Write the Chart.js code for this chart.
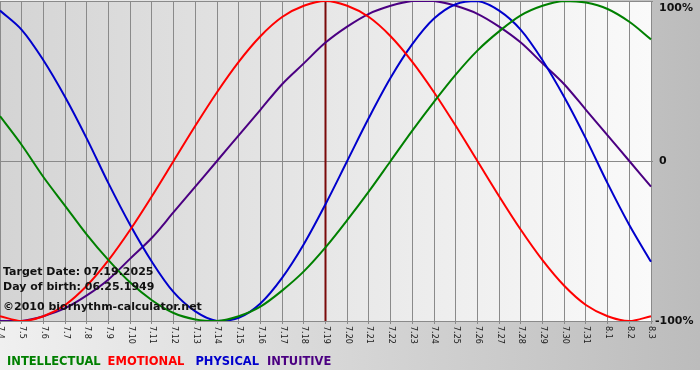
<!DOCTYPE html>
<html>
<head>
<meta charset="utf-8">
<script src="https://cdn.jsdelivr.net/npm/chart.js@4/dist/chart.umd.min.js"></script>
<style>
html,body{margin:0;padding:0;background:#ffffff;}
canvas{display:block;}
</style>
</head>
<body>
<canvas id="c" width="700" height="380"></canvas>
<script>
const dayLabels = ["7.4","7.5","7.6","7.7","7.8","7.9","7.10","7.11","7.12","7.13","7.14","7.15","7.16","7.17","7.18","7.19","7.20","7.21","7.22","7.23","7.24","7.25","7.26","7.27","7.28","7.29","7.30","7.31","8.1","8.2","8.3"];
const intellectual = [28,10,-10,-28,-46,-62,-76,-87,-95,-99,-100,-97,-91,-81,-69,-54,-37,-19,0,19,37,54,69,81,91,97,100,99,95,87,76];
const emotional = [-97,-100,-97,-90,-78,-62,-43,-22,0,22,43,62,78,90,97,100,97,90,78,62,43,22,0,-22,-43,-62,-78,-90,-97,-100,-97];
const physical = [94,82,63,40,14,-14,-40,-63,-82,-94,-100,-98,-89,-73,-52,-27,0,27,52,73,89,98,100,94,82,63,40,14,-14,-40,-63];
const intuitive = [-100,-100,-97,-92,-84,-74,-61,-48,-32,-16,0,16,32,48,61,74,84,92,97,100,100,97,92,84,74,61,48,32,16,0,-16];
const yTickLabels = ["100%","0","-100%"];
const yTickValues = [100,0,-100];
const targetLabel = "7.19";
const infoLines = ["Target Date: 07.19.2025","Day of birth: 06.25.1949","©2010 biorhythm-calculator.net"];
const seriesNames = ["INTELLECTUAL","EMOTIONAL","PHYSICAL","INTUITIVE"];
const seriesColors = ["#008000","#ff0000","#0000cc","#4b0082"];

const decor = {
  id:'decor',
  beforeDraw(chart){
    const ctx = chart.ctx, a = chart.chartArea;
    ctx.save();
    ctx.fillStyle = '#ffffff';
    ctx.fillRect(0,0,700,380);
    let g = ctx.createLinearGradient(0,0,700,0);
    g.addColorStop(0,'#f0f0f0');
    g.addColorStop(1,'#bcbcbc');
    ctx.fillStyle = g;
    ctx.fillRect(0,0,700,370);
    g = ctx.createLinearGradient(a.left,0,a.right,0);
    g.addColorStop(0,'#d4d4d4');
    g.addColorStop(1,'#fafafa');
    ctx.fillStyle = g;
    ctx.fillRect(a.left,a.top,a.right-a.left,a.bottom-a.top);
    ctx.restore();
  },
  beforeDatasetsDraw(chart){
    const ctx = chart.ctx, a = chart.chartArea, xs = chart.scales.x;
    const x = xs.getPixelForValue(dayLabels.indexOf(targetLabel));
    ctx.save();
    ctx.strokeStyle = '#7a0a0a';
    ctx.lineWidth = 2;
    ctx.beginPath();
    ctx.moveTo(x, a.top);
    ctx.lineTo(x, a.bottom);
    ctx.stroke();
    ctx.restore();
  },
  afterDraw(chart){
    const ctx = chart.ctx, a = chart.chartArea, xs = chart.scales.x, ys = chart.scales.y;
    ctx.save();
    ctx.fillStyle = '#1a1a1a';
    ctx.font = '8px "DejaVu Sans"';
    ctx.textAlign = 'left';
    ctx.textBaseline = 'middle';
    dayLabels.forEach((l,i)=>{
      const x = xs.getPixelForValue(i);
      ctx.save();
      ctx.translate(x+0.5, a.bottom+5);
      ctx.rotate(Math.PI/2);
      ctx.fillText(l,0,0);
      ctx.restore();
    });
    ctx.fillStyle = '#111111';
    ctx.font = 'bold 11px "DejaVu Sans"';
    ctx.textBaseline = 'middle';
    yTickValues.forEach((v,i)=>{
      let y = ys.getPixelForValue(v);
      if (v === 100) y += 7;
      ctx.fillText(yTickLabels[i], a.right + (v===-100?4:8), y);
    });
    ctx.fillStyle = '#111111';
    ctx.font = 'bold 11px "DejaVu Sans"';
    ctx.fillText(infoLines[0], 3, 272);
    ctx.fillText(infoLines[1], 3, 287);
    ctx.fillText(infoLines[2], 3, 307);
    ctx.font = 'bold 11.5px "DejaVu Sans"';
    let lx = 7;
    seriesNames.forEach((n,i)=>{
      ctx.fillStyle = seriesColors[i];
      ctx.fillText(n, lx, 362);
      lx += ctx.measureText(n).width + [7,11,8,0][i];
    });
    ctx.restore();
  }
};

const mk = (data,color)=>({data, borderColor:color, borderWidth:2, pointRadius:0, tension:0.33, fill:false});

new Chart(document.getElementById('c'),{
  type:'line',
  data:{
    labels: dayLabels,
    datasets:[
      mk(intellectual, seriesColors[0]),
      mk(emotional, seriesColors[1]),
      mk(physical, seriesColors[2]),
      mk(intuitive, seriesColors[3])
    ]
  },
  options:{
    responsive:false,
    animation:false,
    events:[],
    layout:{padding:{top:1,left:0,right:0,bottom:0}},
    plugins:{legend:{display:false}, tooltip:{enabled:false}},
    scales:{
      x:{
        ticks:{display:false},
        grid:{color:'#8a8a8a', lineWidth:1, drawTicks:true, tickLength:3, tickColor:'#8a8a8a'},
        border:{color:'#8a8a8a'},
        afterFit(s){ s.height = 59; }
      },
      y:{
        position:'right',
        min:-100, max:100,
        ticks:{display:false, stepSize:100},
        grid:{color:'#8a8a8a', lineWidth:1, drawTicks:true, tickLength:2, tickColor:'#8a8a8a'},
        border:{display:false},
        afterFit(s){ s.width = 49; }
      }
    }
  },
  plugins:[decor]
});
</script>
</body>
</html>
